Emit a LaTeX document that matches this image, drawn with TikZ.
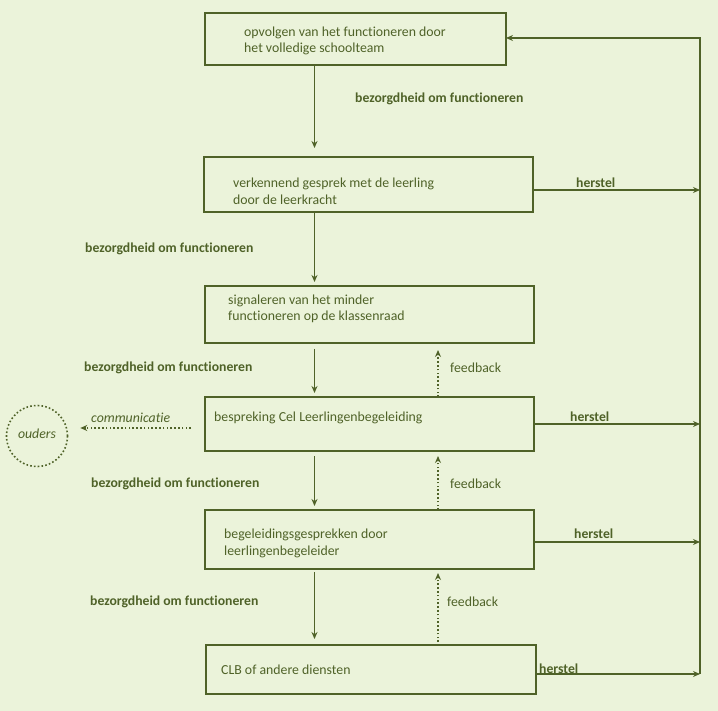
\documentclass[tikz,border=0pt]{standalone}
\usepackage{fontspec}
\setmainfont{Carlito}[Ligatures=NoCommon]
\usetikzlibrary{arrows.meta,calc}
\definecolor{bgc}{RGB}{235,243,218}
\definecolor{olv}{RGB}{79,98,40}
\begin{document}
\begin{tikzpicture}[x=1pt,y=-1pt,
  every node/.style={text=olv, font=\fontsize{13.8}{16.5}\selectfont},
  box/.style={draw=olv, line width=1.2pt, rectangle, inner sep=0pt, outer sep=0pt},
  txt/.style={anchor=west, align=left, inner sep=0pt},
  lbl/.style={anchor=west, inner sep=0pt, font=\fontsize{13.7}{16}\selectfont\bfseries},
  fb/.style={anchor=west, inner sep=0pt},
  arr/.style={draw=olv, line width=1.5pt, -{Stealth[length=7pt,width=6pt]}},
  harr/.style={draw=olv, line width=1.8pt, -{Stealth[length=7pt,width=6pt]}},
  darr/.style={draw=olv, line width=1.6pt, dash pattern=on 1.6pt off 2.2pt, -{Stealth[length=7pt,width=6pt]}}
]
\useasboundingbox (0,0) rectangle (718,711);
\fill[bgc] (0,0) rectangle (718,711);

% boxes
\node[box, minimum width=301pt, minimum height=52pt] (b1) at (355.5,39) {};
\node[box, minimum width=329pt, minimum height=55pt] (b2) at (368.5,184.5) {};
\node[box, minimum width=329pt, minimum height=57pt] (b3) at (369.5,314.5) {};
\node[box, minimum width=329pt, minimum height=54pt] (b4) at (369.5,424) {};
\node[box, minimum width=329pt, minimum height=59pt] (b5) at (369.5,539.5) {};
\node[box, minimum width=330pt, minimum height=49pt] (b6) at (371,669.5) {};

% box texts
\node[txt] (t1) at (244,41) {opvolgen van het functioneren door\\het volledige schoolteam};
\node[txt] (t2) at (233,191.5) {verkennend gesprek met de leerling\\door de leerkracht};
\node[txt] (t3) at (228,309) {signaleren van het minder\\functioneren op de klassenraad};
\node[txt] (t4) at (214,418) {bespreking Cel Leerlingenbegeleiding};
\node[txt] (t5) at (224,543.5) {begeleidingsgesprekken door\\leerlingenbegeleider};
\node[txt] (t6) at (221,670) {CLB of andere diensten};

% helper coordinates
\coordinate (xa) at (314.5,0);
\coordinate (xf) at (438,0);
\coordinate (rt) at (700,38);
\coordinate (rb) at (700,674);
\coordinate (r2) at (700,190);
\coordinate (r4) at (700,424);
\coordinate (r5) at (700,542);

% downward arrows
\draw[arr] (b1.south -| xa) -- ([yshift=9pt]b2.north -| xa);
\draw[arr] (b2.south -| xa) -- ([yshift=4pt]b3.north -| xa);
\draw[arr] ([yshift=-6pt]b3.south -| xa) -- ([yshift=4pt]b4.north -| xa);
\draw[arr] ([yshift=-5pt]b4.south -| xa) -- ([yshift=4pt]b5.north -| xa);
\draw[arr] ([yshift=-3pt]b5.south -| xa) -- ([yshift=6pt]b6.north -| xa);

% feedback arrows
\draw[darr] (b4.north -| xf) -- ([yshift=-7pt]b3.south -| xf);
\draw[darr] (b5.north -| xf) -- ([yshift=-5pt]b4.south -| xf);
\draw[darr] ([yshift=3pt]b6.north -| xf) -- ([yshift=-4pt]b5.south -| xf);

% herstel arrows
\draw[harr] (b2.east |- r2) -- (r2);
\draw[harr] (b4.east |- r4) -- (r4);
\draw[harr] (b5.east |- r5) -- (r5);
\draw[harr] (b6.east |- rb) -- (rb);
\draw[arr, line width=1.3pt] (rb) -- (rt) -- (b1.east |- rt);

% ouders
\node[draw=olv, line width=1.6pt, dash pattern=on 1.6pt off 2.2pt, circle, minimum size=61pt, inner sep=0pt] (ou) at (37,436) {};
\node[font=\fontsize{13.8}{16}\selectfont\itshape, inner sep=0pt] (out) at (37,434) {ouders};
\coordinate (cs) at (191,428);
\draw[darr] (cs) -- ([xshift=12pt]ou.east |- cs);
\node[fb, font=\fontsize{13.8}{16}\selectfont\itshape] (com) at (91,418) {communicatie};

% labels
\node[lbl] (l1) at (355,99) {bezorgdheid om functioneren};
\node[lbl] (l2) at (85,249) {bezorgdheid om functioneren};
\node[lbl] (l3) at (84,368) {bezorgdheid om functioneren};
\node[lbl] (l4) at (91,484) {bezorgdheid om functioneren};
\node[lbl] (l5) at (90,602) {bezorgdheid om functioneren};
\node[fb] (f1) at (450,368) {feedback};
\node[fb] (f2) at (450,484) {feedback};
\node[fb] (f3) at (447,602) {feedback};
\node[lbl] (h1) at (576,183) {herstel};
\node[lbl] (h2) at (570,417) {herstel};
\node[lbl] (h3) at (574,534) {herstel};
\node[lbl] (h4) at (539,669) {herstel};
\end{tikzpicture}
\end{document}
